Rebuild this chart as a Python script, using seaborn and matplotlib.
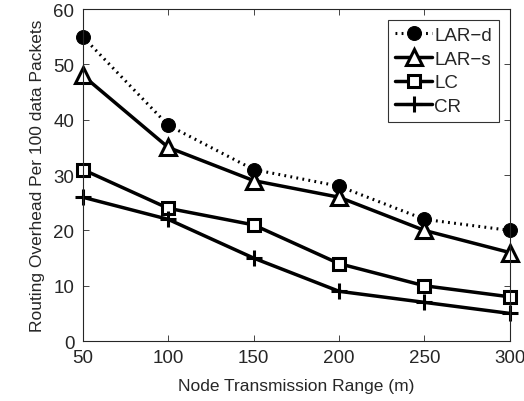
import pandas as pd
import seaborn as sns
import matplotlib.pyplot as plt

ranges = [50, 100, 150, 200, 250, 300]
lar_d = [55, 39, 31, 28, 22, 20]
lar_s = [48, 35, 29, 26, 20, 16]
lc = [31, 24, 21, 14, 10, 8]
cr = [26, 22, 15, 9, 7, 5]

df = pd.DataFrame({"range": ranges * 4,
                   "overhead": lar_d + lar_s + lc + cr,
                   "protocol": ["LAR\u2212d"] * 6 + ["LAR\u2212s"] * 6 + ["LC"] * 6 + ["CR"] * 6})

sns.set_style("ticks")
plt.rcParams['font.family'] = ['Liberation Sans', 'DejaVu Sans']

fig = plt.figure(figsize=(5.24, 4.02), dpi=100)
ax = fig.add_axes([0.158, 0.149, 0.815, 0.826])

styles = {"LAR\u2212d": dict(ls=(0, (0.6, 1.4)), marker="o", ms=10, mfc="black", lw=2.2),
          "LAR\u2212s": dict(ls="-", marker="^", ms=12, mfc="white", lw=2.5, mew=2.2),
          "LC": dict(ls="-", marker="s", ms=9, mfc="white", lw=2.5, mew=2.2),
          "CR": dict(ls="-", marker="+", ms=11, lw=2.5, mew=2.2)}

for name, st in styles.items():
    sub = df[df["protocol"] == name]
    sns.lineplot(data=sub, x="range", y="overhead", ax=ax, color="black",
                 label=name, markeredgecolor="black", clip_on=False, **st)

ax.set_xlim(50, 300)
ax.set_ylim(0, 60)
ax.set_xticks(ranges)
ax.set_yticks(range(0, 61, 10))
ax.tick_params(direction="in", top=True, right=True, labelsize=13.5, length=4, width=0.6, pad=6)
for s in ax.spines.values():
    s.set_linewidth(0.8)
    s.set_visible(True)
ax.set_xlabel("Node Transmission Range (m)", fontsize=12.5, labelpad=8)
ax.set_ylabel("Routing Overhead Per 100 data Packets", fontsize=12.5, labelpad=6)
leg = ax.legend(loc="upper right", fontsize=13.5, frameon=True, fancybox=False,
                edgecolor="black", handlelength=2.0, handletextpad=0.1,
                borderpad=0.35, labelspacing=0.35, borderaxespad=0.6)
leg.get_frame().set_linewidth(0.8)
plt.savefig("out.png", dpi=100)
